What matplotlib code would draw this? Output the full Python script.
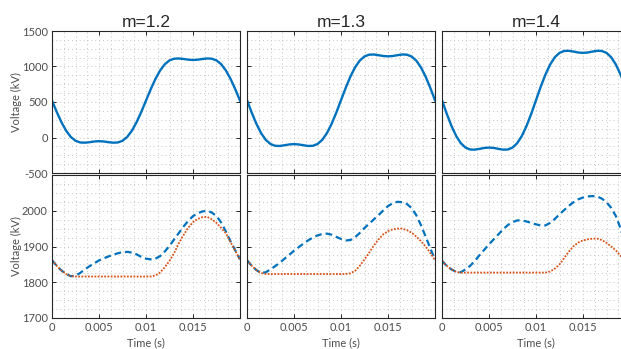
import numpy as np
import matplotlib
matplotlib.use("Agg")
import matplotlib.pyplot as plt
from matplotlib.ticker import MultipleLocator

# time base, one sample every 0.5 ms over one 50 Hz period
t = np.linspace(0, 0.02, 41)

titles = ["m=1.2", "m=1.3", "m=1.4"]

# arm voltage (kV)
v_arm = [
    [520, 361, 216, 96, 8, -46, -70, -73, -66, -56, -52, -56, -66, -73, -70, -46, 8, 96, 216, 361, 520,
     679, 824, 944, 1032, 1086, 1110, 1113, 1106, 1096, 1092, 1096, 1106, 1113, 1110, 1086, 1032, 944, 824, 679, 520],
    [525, 351, 192, 61, -34, -92, -117, -119, -109, -98, -93, -98, -109, -119, -117, -92, -34, 61, 192, 351, 525,
     699, 858, 989, 1084, 1142, 1167, 1169, 1159, 1148, 1143, 1148, 1159, 1169, 1167, 1142, 1084, 989, 858, 699, 525],
    [525, 336, 165, 23, -80, -142, -169, -171, -160, -147, -142, -147, -160, -171, -169, -142, -80, 23, 165, 336, 525,
     714, 885, 1027, 1130, 1192, 1219, 1221, 1210, 1197, 1192, 1197, 1210, 1221, 1219, 1192, 1130, 1027, 885, 714, 525],
]

# total capacitor voltage (kV), dashed
v_cap = [
    [1862, 1846, 1833, 1823, 1817, 1818, 1826, 1836, 1845, 1853, 1861, 1867, 1872, 1877, 1881, 1884, 1885, 1883, 1878, 1871,
     1866, 1864, 1866, 1873, 1886, 1902, 1920, 1938, 1956, 1972, 1985, 1993, 1998, 2000, 1995, 1985, 1967, 1942, 1914, 1889, 1864],
    [1862, 1846, 1834, 1826, 1828, 1836, 1845, 1855, 1866, 1877, 1888, 1898, 1908, 1917, 1925, 1931, 1935, 1936, 1933, 1927,
     1921, 1917, 1918, 1926, 1938, 1952, 1964, 1976, 1988, 2001, 2013, 2021, 2025, 2024, 2019, 2008, 1988, 1960, 1928, 1895, 1863],
    [1860, 1846, 1836, 1829, 1828, 1836, 1846, 1860, 1876, 1891, 1906, 1920, 1934, 1948, 1960, 1968, 1973, 1973, 1970, 1966,
     1962, 1959, 1959, 1966, 1977, 1990, 2002, 2014, 2024, 2032, 2037, 2040, 2041, 2040, 2034, 2024, 2008, 1985, 1950, 1908, 1865],
]

# sorted/inserted capacitor voltage (kV), dotted
v_ins = [
    [1862, 1846, 1833, 1823, 1817, 1816, 1816, 1816, 1816, 1816, 1816, 1816, 1816, 1816, 1816, 1816, 1816, 1816, 1816, 1816,
     1816, 1816, 1819, 1827, 1842, 1860, 1882, 1910, 1932, 1953, 1968, 1977, 1982, 1983, 1976, 1966, 1952, 1937, 1912, 1888, 1863],
    [1862, 1846, 1834, 1826, 1823, 1823, 1823, 1823, 1823, 1823, 1823, 1823, 1823, 1823, 1823, 1823, 1823, 1823, 1823, 1823,
     1823, 1823, 1825, 1832, 1846, 1864, 1883, 1903, 1920, 1934, 1943, 1948, 1950, 1950, 1946, 1939, 1928, 1915, 1900, 1882, 1862],
    [1860, 1846, 1836, 1829, 1827, 1827, 1827, 1827, 1827, 1827, 1827, 1827, 1827, 1827, 1827, 1827, 1827, 1827, 1827, 1827,
     1827, 1827, 1827, 1830, 1838, 1850, 1868, 1886, 1901, 1911, 1917, 1920, 1922, 1922, 1918, 1910, 1900, 1889, 1874, 1858, 1842],
]

blue = "#0072BD"
orange = "#D95319"
axcol = "#262626"
labcol = "#4d4d4d"

plt.rcParams['font.family'] = ['Lato', 'DejaVu Sans']
plt.rcParams['axes.unicode_minus'] = False

fig = plt.figure(figsize=(6.21, 3.49), dpi=100)

lefts = [52 / 621, 247 / 621, 442 / 621]
w = 188 / 621
top_row = (1 - 173 / 349, 142 / 349)
bot_row = (1 - 318 / 349, 143 / 349)


def style(ax, ylim, ymajor, yminor, show_y, show_x):
    ax.set_xlim(0, 0.02)
    ax.set_ylim(*ylim)
    ax.xaxis.set_major_locator(MultipleLocator(0.005))
    ax.xaxis.set_minor_locator(MultipleLocator(0.00125))
    ax.yaxis.set_major_locator(MultipleLocator(ymajor))
    ax.yaxis.set_minor_locator(MultipleLocator(yminor))
    ax.grid(True, which='both', linestyle=(0, (1, 3)), color='#c4c4c4', linewidth=0.7)
    ax.set_axisbelow(True)
    ax.tick_params(which='major', direction='in', length=3, width=0.7, colors=axcol,
                   labelcolor=labcol, labelsize=8, top=True, right=True, pad=3)
    ax.tick_params(which='minor', length=0)
    for s in ax.spines.values():
        s.set_color(axcol)
        s.set_linewidth(0.8)
    if not show_y:
        ax.set_yticklabels([])
    if show_x:
        ax.set_xticks([0, 0.005, 0.01, 0.015, 0.02])
        ax.set_xticklabels(["0", "0.005", "0.01", "0.015", ""])
    else:
        ax.set_xticklabels([])


for i in range(3):
    ax = fig.add_axes([lefts[i], top_row[0], w, top_row[1]])
    ax.plot(t, v_arm[i], color=blue, linewidth=1.7)
    style(ax, (-500, 1500), 500, 125, i == 0, False)
    if i == 0:
        ax.set_yticks([-500, 0, 500, 1000, 1500])
        ax.set_yticklabels(["-500", "0", "500", "1000", "1500"])
        ax.set_ylabel("Voltage (kV)", fontsize=8, color=labcol, labelpad=0)
    ax.set_title(titles[i], fontsize=12.5, color="#262626", pad=3,
                 family=['Liberation Sans', 'DejaVu Sans'])

    ax = fig.add_axes([lefts[i], bot_row[0], w, bot_row[1]])
    ax.plot(t, v_cap[i], color=blue, linewidth=1.6, linestyle=(0, (3, 1.8)))
    ax.plot(t, v_ins[i], color=orange, linewidth=1.3, linestyle=(0, (1, 0.8)))
    style(ax, (1700, 2100), 100, 25, i == 0, True)
    if i == 0:
        ax.set_yticks([1700, 1800, 1900, 2000])
        ax.set_yticklabels(["1700", "1800", "1900", "2000"])
        ax.set_ylabel("Voltage (kV)", fontsize=8, color=labcol, labelpad=0)
    ax.set_xlabel("Time (s)", fontsize=8, color=labcol, labelpad=3)

fig.savefig("out.png", dpi=100)
